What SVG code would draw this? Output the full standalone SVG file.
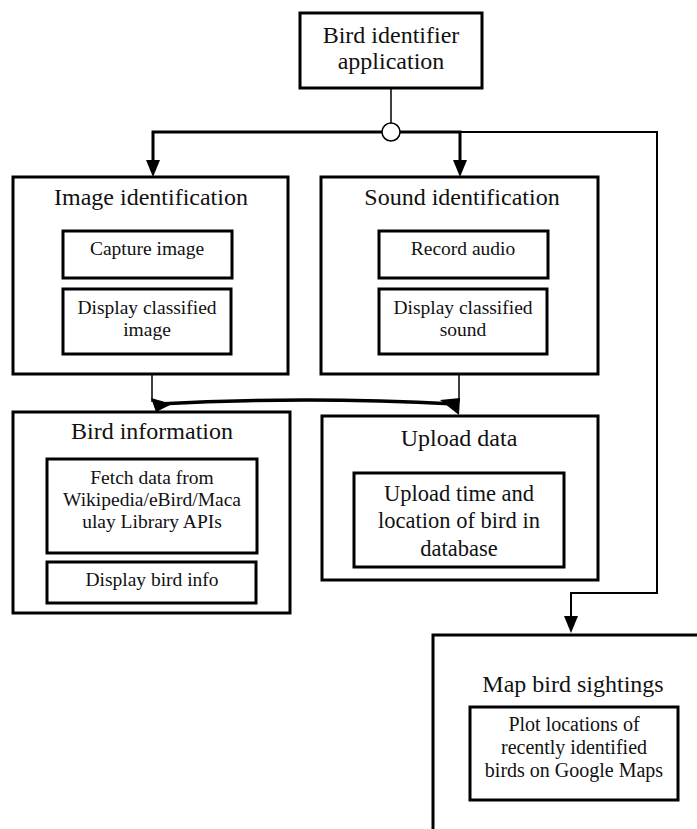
<svg xmlns="http://www.w3.org/2000/svg" width="697" height="829" viewBox="0 0 697 829">
<style>
.box{fill:#fff;stroke:#000;stroke-width:3}
text{font-family:'Liberation Serif','Times New Roman','DejaVu Serif',serif;fill:#111;text-anchor:middle}
.h{font-size:24px}
.s{font-size:19.5px}
.m{font-size:22.5px}
.p{font-size:20px}
.ln{fill:none;stroke:#000}
</style>
<rect width="697" height="829" fill="#fff"/>
<g id="connectors">
<line class="ln" x1="391" y1="88" x2="391" y2="124" stroke-width="1.5"/>
<path class="ln" d="M382,132 H153 V162" stroke-width="3"/>
<polygon points="146,160 160,160 153,177" fill="#000"/>
<path class="ln" d="M400,132 H460 V162" stroke-width="3"/>
<polygon points="453,160 467,160 460,177" fill="#000"/>
<path class="ln" d="M460,132 H657 V593 H571 V618" stroke-width="2" stroke="#333"/>
<polygon points="564,616 578,616 571,633" fill="#000"/>
<circle cx="391" cy="132" r="9" fill="#fff" stroke="#000" stroke-width="1.5"/>
<line class="ln" x1="152" y1="374" x2="152" y2="402" stroke-width="1.5"/>
<line class="ln" x1="459" y1="374" x2="459" y2="402" stroke-width="1.5"/>
<path class="ln" d="M158,404 Q305,396 455,404" stroke-width="3.5"/>
<polygon points="151,398 172,404 156,412" fill="#000"/>
<polygon points="440,400 460,398 459,415" fill="#000"/>
</g>
<g id="app">
<rect class="box" x="300" y="13" width="182" height="75"/>
<text class="h" x="391" y="43">Bird identifier</text>
<text class="h" x="391" y="69">application</text>
</g>
<g id="image-id">
<rect class="box" x="13" y="177" width="275" height="197"/>
<text class="h" x="151" y="205">Image identification</text>
<rect class="box" x="63" y="231" width="169" height="47"/>
<text class="s" x="147" y="255">Capture image</text>
<rect class="box" x="63" y="289" width="168" height="65"/>
<text class="s" x="147" y="314">Display classified</text>
<text class="s" x="147" y="336">image</text>
</g>
<g id="sound-id">
<rect class="box" x="321" y="177" width="277" height="197"/>
<text class="h" x="462" y="205">Sound identification</text>
<rect class="box" x="379" y="231" width="169" height="47"/>
<text class="s" x="463" y="255">Record audio</text>
<rect class="box" x="379" y="289" width="168" height="65"/>
<text class="s" x="463" y="314">Display classified</text>
<text class="s" x="463" y="336">sound</text>
</g>
<g id="bird-info">
<rect class="box" x="13" y="412" width="277" height="201"/>
<text class="h" x="152" y="439">Bird information</text>
<rect class="box" x="47" y="459" width="210" height="94"/>
<text class="s" x="152" y="484">Fetch data from</text>
<text class="s" x="152" y="506">Wikipedia/eBird/Maca</text>
<text class="s" x="152" y="528">ulay Library APIs</text>
<rect class="box" x="47" y="562" width="209" height="41"/>
<text class="s" x="152" y="586">Display bird info</text>
</g>
<g id="upload">
<rect class="box" x="322" y="416" width="276" height="164"/>
<text class="h" x="459" y="446">Upload data</text>
<rect class="box" x="354" y="473" width="210" height="94"/>
<text class="m" x="459" y="501">Upload time and</text>
<text class="m" x="459" y="528">location of bird in</text>
<text class="m" x="459" y="556">database</text>
</g>
<g id="map">
<rect class="box" x="433" y="635" width="300" height="220"/>
<text class="h" x="573" y="692">Map bird sightings</text>
<rect class="box" x="470" y="707" width="208" height="93"/>
<text class="p" x="574" y="731">Plot locations of</text>
<text class="p" x="574" y="754">recently identified</text>
<text class="p" x="574" y="777">birds on Google Maps</text>
</g>
</svg>
